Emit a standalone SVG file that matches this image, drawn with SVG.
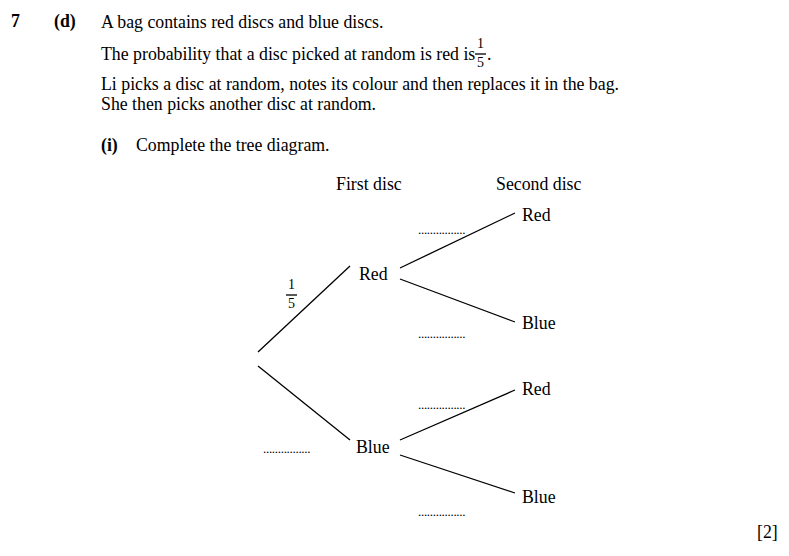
<svg xmlns="http://www.w3.org/2000/svg" width="789" height="556" viewBox="0 0 789 556">
<style>
text{font-family:"Liberation Serif","Times New Roman",serif;font-size:17.8px;fill:#000}
.b{font-weight:bold}
.d{font-size:13px;letter-spacing:-0.3px}
.f{font-size:14px}
line{stroke:#000;stroke-width:1.3}
</style>
<rect width="789" height="556" fill="#fff"/>
<text x="11" y="27" class="b">7</text>
<text x="54" y="27" class="b">(d)</text>
<text x="101" y="28">A bag contains red discs and blue discs.</text>
<text x="101" y="60">The probability that a disc picked at random is red is</text>
<text x="477" y="48" class="f">1</text>
<line x1="475" y1="54" x2="486" y2="54" stroke-width="1"/>
<text x="477" y="67" class="f">5</text>
<text x="487" y="60">.</text>
<text x="101" y="90">Li picks a disc at random, notes its colour and then replaces it in the bag.</text>
<text x="101" y="110">She then picks another disc at random.</text>
<text x="101" y="151" class="b">(i)</text>
<text x="136" y="151">Complete the tree diagram.</text>
<text x="336" y="190">First disc</text>
<text x="496" y="190">Second disc</text>
<g id="connectors">
<line x1="258" y1="352" x2="350" y2="266"/>
<line x1="258" y1="366" x2="350" y2="440"/>
<line x1="400" y1="268" x2="515" y2="213"/>
<line x1="400" y1="279" x2="515" y2="322"/>
<line x1="400" y1="440" x2="515" y2="390"/>
<line x1="400" y1="455" x2="515" y2="493"/>
</g>
<g id="frac"><text x="288" y="289" class="f">1</text>
<line x1="286" y1="295" x2="297" y2="295" stroke-width="1"/>
<text x="288" y="308" class="f">5</text></g>
<g id="red1"><text x="359" y="280">Red</text></g>
<g id="blue1"><text x="356" y="453">Blue</text></g>
<g id="rr"><text x="522" y="221">Red</text></g>
<g id="rb"><text x="522" y="329">Blue</text></g>
<g id="br"><text x="522" y="395">Red</text></g>
<g id="bb"><text x="522" y="503">Blue</text></g>
<text x="418" y="234" class="d">................</text>
<text x="418" y="338" class="d">................</text>
<text x="418" y="409" class="d">................</text>
<text x="418" y="516" class="d">................</text>
<text x="263" y="453" class="d">................</text>
<text x="757" y="538">[2]</text>
</svg>
